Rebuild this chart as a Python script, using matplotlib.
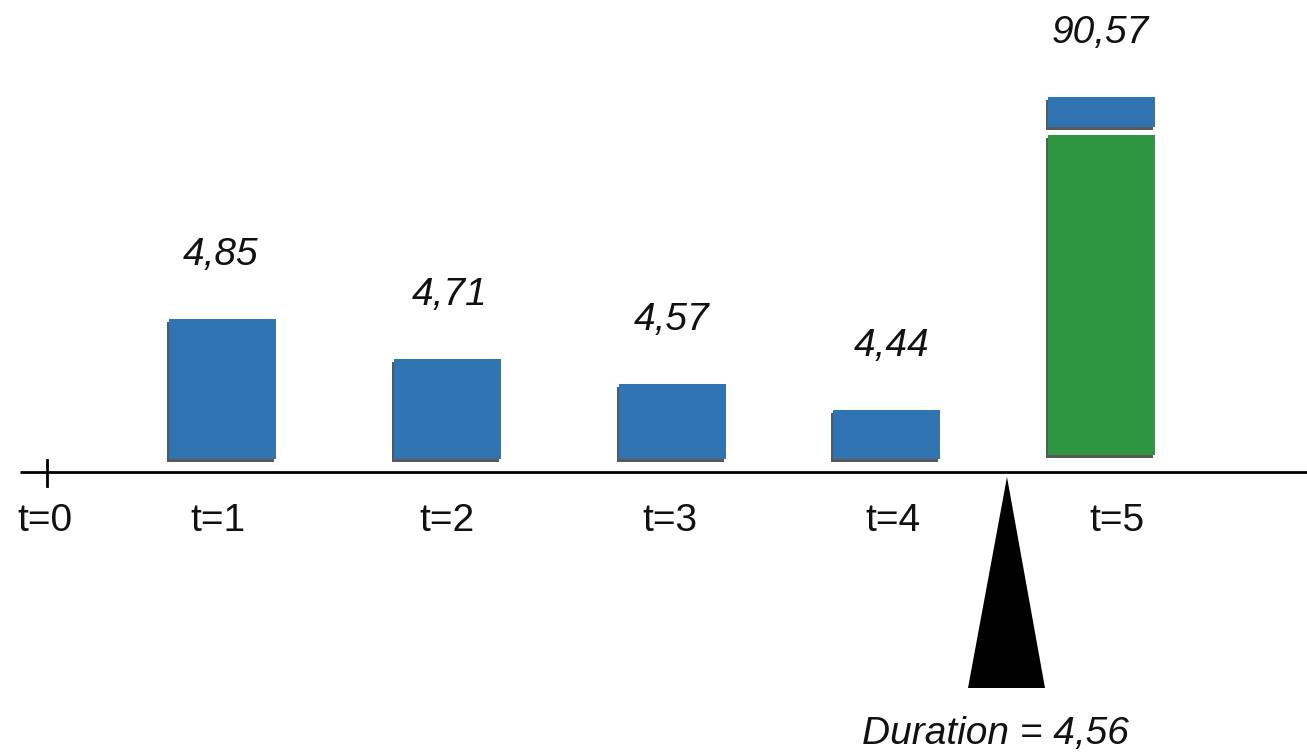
import matplotlib
matplotlib.use("Agg")
import matplotlib.pyplot as plt
import matplotlib.patheffects as pe

# cash flows per period (value labels) and drawn bar heights
periods = ["t=0", "t=1", "t=2", "t=3", "t=4", "t=5"]
cash_labels = ["4,85", "4,71", "4,57", "4,44", "90,57"]
bar_heights = [140, 100, 75, 49]          # blue bars t=1..t=4
final_principal = 320                      # green part of t=5
final_coupon = 30                          # blue cap of t=5
duration_label = "Duration = 4,56"

# layout (pixel-like units, axis line at y=0)
tick_x = [45, 218, 447, 670, 893, 1117]
bar_x = [222, 447, 672, 886, 1101]
label_x = [221, 450, 672, 892, 1100]
bar_w = 107
bar_base = 13
fulcrum_x = 1007

BLUE = "#3174b2"
GREEN = "#2e9640"

plt.rcParams['font.family'] = ['Liberation Sans', 'DejaVu Sans']

fig = plt.figure(figsize=(13.07, 7.56), dpi=100)
ax = fig.add_axes([0, 0, 1, 1])
ax.set_xlim(0, 1307)
ax.set_ylim(472 - 756, 472)
ax.axis("off")

# soft dark edge like the original's drop shadow
shadow = [pe.SimplePatchShadow(offset=(-1, -2), shadow_rgbFace="#111111", alpha=0.7), pe.Normal()]

bars = ax.bar(bar_x[:4], bar_heights, width=bar_w, bottom=bar_base, color=BLUE, linewidth=0)
for b in bars:
    b.set_path_effects(shadow)

green = ax.bar(bar_x[4], final_principal, width=bar_w, bottom=17, color=GREEN, linewidth=0)
cap = ax.bar(bar_x[4], final_coupon, width=bar_w, bottom=17 + final_principal + 8, color=BLUE, linewidth=0)
for b in list(green) + list(cap):
    b.set_path_effects(shadow)

# value labels above bars
tops = [bar_base + h for h in bar_heights] + [17 + final_principal + 8 + final_coupon]
for x, top, lab in zip(label_x, tops, cash_labels):
    ax.text(x, top + 64, lab, ha="center", va="center", fontsize=28, style="italic", color="#111111")

# time axis
ax.plot([20, 1307], [0, 0], color="black", lw=2, solid_capstyle="butt")
ax.plot([tick_x[0] + 2, tick_x[0] + 2], [-14, 12], color="black", lw=2)
for x, lab in zip(tick_x, periods):
    ax.text(x, -49, lab, ha="center", va="center", fontsize=28, color="#111111")

# fulcrum triangle
ax.fill([fulcrum_x, fulcrum_x - 39, fulcrum_x + 38], [-5, -216, -216], color="black", lw=0)
ax.text(995, -262, duration_label, ha="center", va="center", fontsize=28, style="italic", color="#111111")

fig.savefig("out.png", dpi=100)
